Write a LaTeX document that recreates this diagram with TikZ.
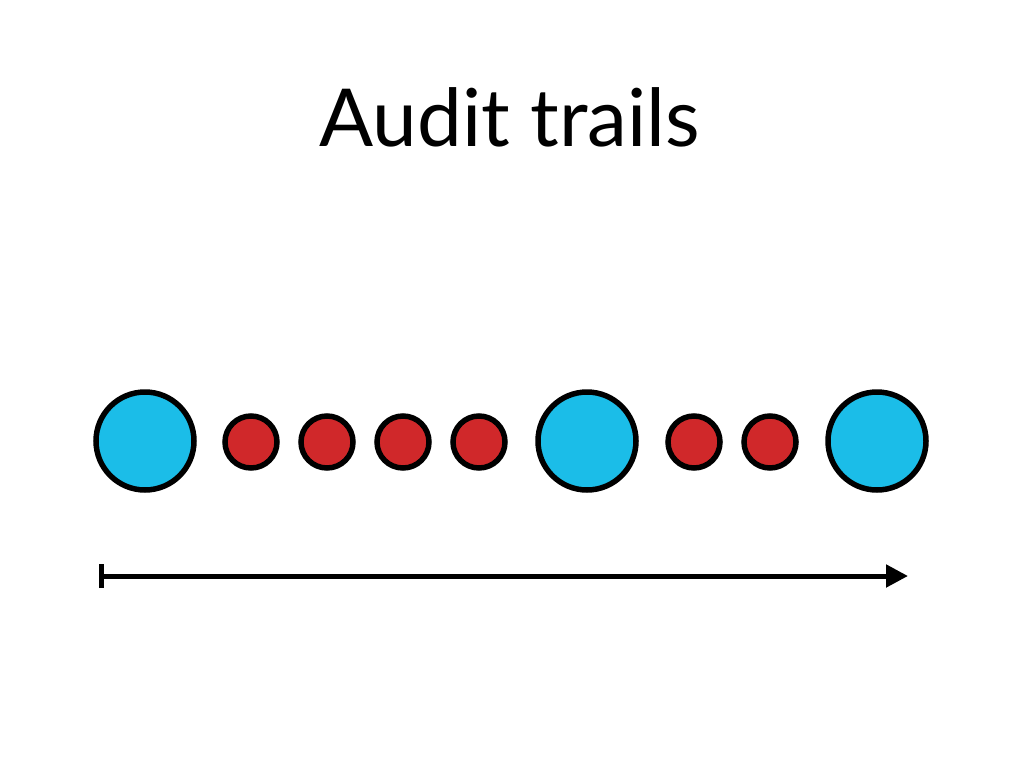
\documentclass[tikz,border=0pt]{standalone}
\usepackage{fontspec}
\setmainfont{Lato}
\usetikzlibrary{arrows.meta}
\definecolor{bigblue}{HTML}{1BBDE8}
\definecolor{smallred}{HTML}{D0282A}
\begin{document}
\begin{tikzpicture}[x=1pt,y=-1pt,
  bigdot/.style={circle,draw=black,line width=5.5pt,fill=bigblue,minimum size=98pt,inner sep=0pt},
  smalldot/.style={circle,draw=black,line width=5.5pt,fill=smallred,minimum size=52pt,inner sep=0pt},
  timeline/.style={line width=5pt,{Bar[width=24pt,line width=5pt]}-{Triangle[length=22pt,width=22pt]}}]
\useasboundingbox[fill=white] (0,0) rectangle (1024,768);
\node[anchor=base,font=\fontsize{80}{96}\selectfont] (title) at (510,146) {Audit trails};
\node[bigdot] (b1) at (145,441) {};
\node[smalldot] (r1) at (251,442) {};
\node[smalldot] (r2) at (327,442) {};
\node[smalldot] (r3) at (403,442) {};
\node[smalldot] (r4) at (479,442) {};
\node[bigdot] (b2) at (587,441) {};
\node[smalldot] (r5) at (694,442) {};
\node[smalldot] (r6) at (770,442) {};
\node[bigdot] (b3) at (877,441) {};
\coordinate (tstart) at (99,576);
\coordinate (tend) at (908,576);
\draw[timeline] (tstart) -- (tend);
\end{tikzpicture}
\end{document}
